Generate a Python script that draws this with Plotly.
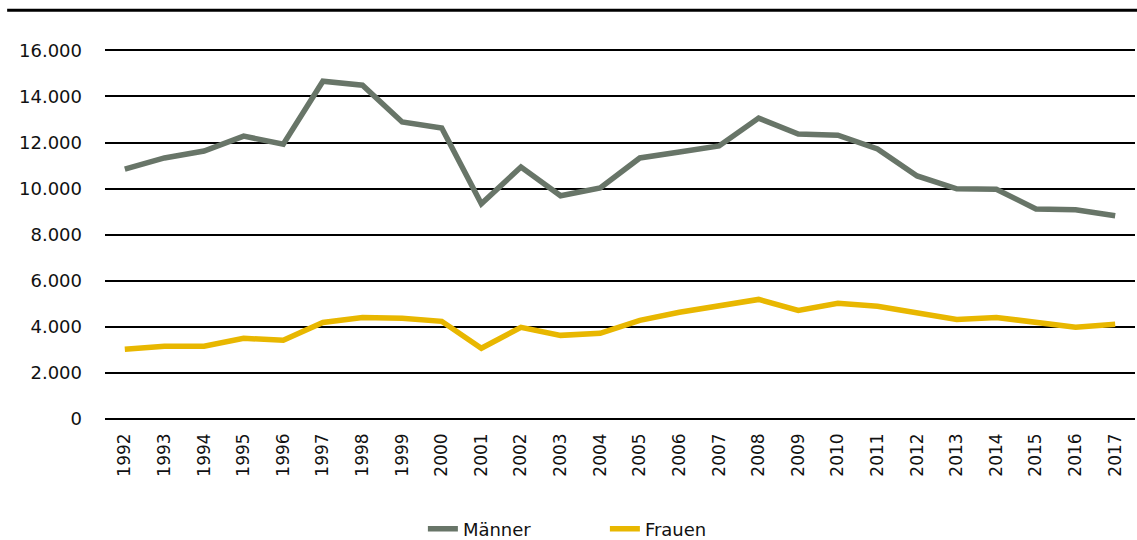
import plotly.graph_objects as go

years = [str(y) for y in range(1992, 2018)]
maenner = [10850, 11330, 11630, 12280, 11930, 14660, 14490, 12890, 12630, 9340,
           10940, 9690, 10030, 11330, 11590, 11850, 13060, 12370, 12320, 11720,
           10550, 9990, 9970, 9120, 9080, 8820]
frauen = [3030, 3160, 3160, 3500, 3420, 4190, 4410, 4370, 4240, 3070,
          3980, 3630, 3720, 4280, 4630, 4890, 5190, 4710, 5020, 4890,
          4580, 4320, 4410, 4190, 3980, 4110]
y_ticks = [0, 2000, 4000, 6000, 8000, 10000, 12000, 14000, 16000]
y_labels = ["0", "2.000", "4.000", "6.000", "8.000", "10.000", "12.000", "14.000", "16.000"]

font = "DejaVu Sans"
fig = go.Figure()
fig.add_trace(go.Scatter(x=years, y=maenner, name="Männer", mode="lines",
                         line=dict(color="#687568", width=5.5)))
fig.add_trace(go.Scatter(x=years, y=frauen, name="Frauen", mode="lines",
                         line=dict(color="#e8b700", width=5.5)))

fig.update_layout(
    width=1137, height=540,
    margin=dict(l=105, r=2, t=49, b=121, autoexpand=False),
    paper_bgcolor="white", plot_bgcolor="white",
    font=dict(family=font, size=17, color="#111111"),
    showlegend=True,
    legend=dict(orientation="h", xref="container", yref="container",
                x=0.532, xanchor="center", y=(540 - 529) / 540, yanchor="middle",
                font=dict(size=18), tracegroupgap=0, entrywidth=137),
    xaxis=dict(type="category", range=[-0.5, 25.5], tickangle=-90,
               showgrid=False, showline=False, ticks="", ticklabelstandoff=10,
               tickfont=dict(size=17), automargin=False),
    yaxis=dict(range=[0, 16060], tickvals=y_ticks, ticktext=y_labels,
               showgrid=True, gridcolor="black", gridwidth=2,
               zeroline=True, zerolinecolor="black", zerolinewidth=2,
               showline=False, ticks="", ticklabelstandoff=22,
               tickfont=dict(size=18), automargin=False),
)
fig.add_shape(type="line", xref="paper", yref="paper",
              x0=-0.095, x1=1.002, y0=1.105, y1=1.105,
              line=dict(color="black", width=3))
fig.write_html("out.html", config={"displayModeBar": False},
               post_script="document.body.style.margin='0';document.body.style.overflow='hidden';")
